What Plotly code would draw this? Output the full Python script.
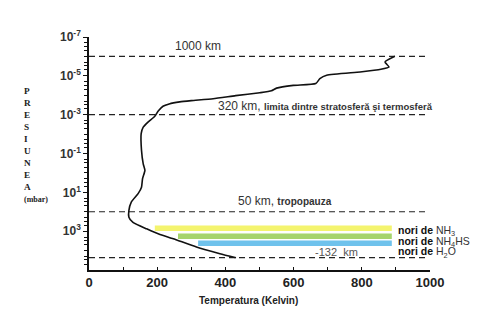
import plotly.graph_objects as go

# Temperature profile (K) vs pressure (mbar)
temperature = [897, 868, 880, 856, 795, 697, 677, 665, 599, 550, 535, 501, 430, 364, 300, 266,
               235, 217, 203, 193, 173, 159, 153, 154, 159, 164, 157, 154, 144, 124, 117, 117,
               129, 169, 208, 247, 315, 384, 431]
pressure = [9.9e-7, 1.95e-6, 3.5e-6, 4.6e-6, 6.3e-6, 9.3e-6, 1.4e-5, 2.5e-5, 3.1e-5, 4.3e-5,
            5.9e-5, 7.4e-5, 1.05e-4, 1.5e-4, 1.9e-4, 2.2e-4, 2.8e-4, 3.7e-4, 6.5e-4, 1.2e-3,
            2.4e-3, 4.4e-3, 9.5e-3, 6.9e-2, 0.34, 0.74, 2.0, 5.4, 11.7, 32, 85, 190, 355, 760,
            1480, 2450, 6600, 14500, 23400]

# Reference levels (dashed lines)
level_pressure = [1e-6, 1e-3, 1e2, 2.3e4]
level_x = [0, 990]

# Cloud layers
cloud_start = [193, 261, 320]
cloud_end = [888, 888, 888]
cloud_pressure = [700, 1810, 4170]
cloud_colors = ["#f4f46e", "#a6d46c", "#6fc2ec"]
cloud_formula = ["NH<sub>3</sub>", "NH<sub>4</sub>HS", "H<sub>2</sub>O"]

x_ticks = [0, 200, 400, 600, 800, 1000]
y_label_exponents = [-7, -5, -3, -1, 1, 3]
y_other_exponents = [-6, -4, -2, 0, 2, 4]

fig = go.Figure()

for p in level_pressure:
    fig.add_trace(go.Scatter(x=level_x, y=[p, p], mode="lines",
                             line=dict(color="#222222", width=1.2, dash="6px,4px"),
                             hoverinfo="skip", showlegend=False))

for s, e, p, c in zip(cloud_start, cloud_end, cloud_pressure, cloud_colors):
    fig.add_trace(go.Scatter(x=[s, e], y=[p, p], mode="lines",
                             line=dict(color=c, width=5.5), showlegend=False))

fig.add_trace(go.Scatter(x=temperature, y=pressure, mode="lines",
                         line=dict(color="#111111", width=1.6, shape="spline", smoothing=0.5),
                         showlegend=False))

ytickvals = [10.0 ** k for k in y_label_exponents]
yticktext = ["10<sup>%d</sup>" % k for k in y_label_exponents]
minor_vals = [10.0 ** k for k in y_other_exponents] + \
             [m * 10.0 ** k for k in range(-7, 5) for m in (2, 3, 5)]

fig.update_xaxes(range=[0, 1000], tickvals=x_ticks, ticks="inside", ticklen=3,
                 tickcolor="#111", tickwidth=1.2,
                 minor=dict(tickvals=[100, 300, 500, 700, 900], ticks="inside", ticklen=3,
                            tickcolor="#111"),
                 showline=True, linecolor="#111", linewidth=1.6, showgrid=False, zeroline=False,
                 tickfont=dict(family="Liberation Sans, Arial", size=13, color="#222", weight="bold"))
fig.update_yaxes(type="log", range=[5, -7], tickvals=ytickvals, ticktext=yticktext,
                 ticks="outside", ticklen=4, tickcolor="#111", tickwidth=1.2,
                 minor=dict(tickvals=minor_vals, ticks="outside", ticklen=3, tickcolor="#111"),
                 showline=True, linecolor="#111", linewidth=1.6, showgrid=False, zeroline=False,
                 tickfont=dict(family="Liberation Sans, Arial", size=12, color="#333", weight="bold"))

ann = []
def add(text, x, y, size=12, xanchor="left", yanchor="middle", color="#222", family="Liberation Sans, Arial", align="left"):
    ann.append(dict(text=text, x=x, y=y, xref="paper", yref="paper", showarrow=False,
                    xanchor=xanchor, yanchor=yanchor, align=align,
                    font=dict(size=size, color=color, family=family)))

add("1000 km", 0.321, 0.961, size=12, xanchor="center", color="#333")
add("320 km, <b><span style='font-size:9.5px'>limita dintre stratosferă şi termosferă</span></b>",
    0.372, 0.704, size=12, color="#333")
add("50 km, <b><span style='font-size:10px'>tropopauza</span></b>", 0.431, 0.297, size=12, color="#333")
add("-132  km", 0.657, 0.0785, size=11, color="#555")
cloud_lines = ["<span style='font-size:10.5px'><b>nori de</b> <span style='fill:#333'>%s</span></span>" % f
               for f in cloud_formula]
add("<br>".join(cloud_lines), 0.900, 0.208, size=8.2, yanchor="top", color="#111")
add("<b>Temperatura (Kelvin)</b>", 0.469, -0.132, size=10, xanchor="center", color="#222")
add("<b>P<br>R<br>E<br>S<br>I<br>U<br>N<br>E<br>A<br><span style='font-size:8px'>(mbar)</span></b>",
    -0.196, 0.800, size=9.2, yanchor="top", color="#222", family="Liberation Serif, Times New Roman")

fig.update_layout(width=500, height=322, margin=dict(l=89, r=70, t=37, b=52),
                  plot_bgcolor="white", paper_bgcolor="white", annotations=ann,
                  showlegend=False)

fig.write_html("out.html")
